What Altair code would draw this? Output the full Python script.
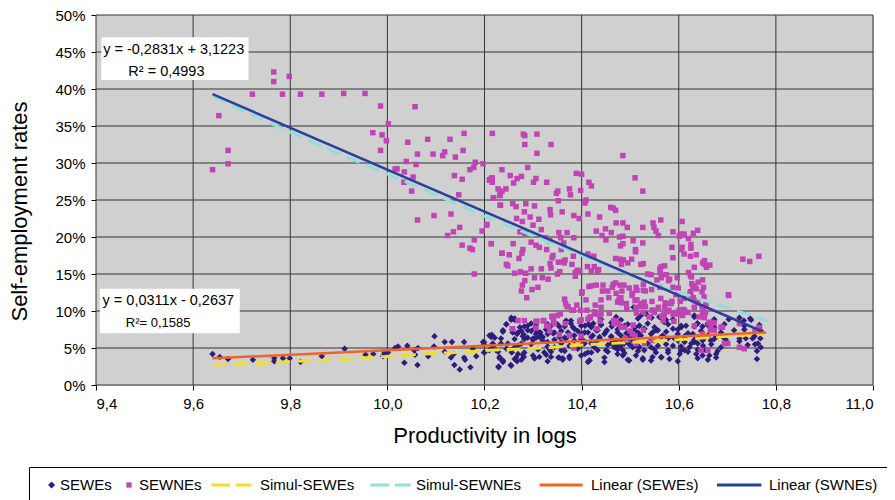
import altair as alt
import pandas as pd

# ---------------- data ----------------
# SEWNEs (magenta squares): (log productivity, self-employment rate in %)
sewne_points = [
    (9.766, 42.3), (9.766, 41.0), (9.798, 41.7), (9.722, 39.3), (9.784, 39.3), (9.821, 39.3),
    (9.865, 39.3), (9.910, 39.4), (9.954, 39.4), (9.653, 36.4), (9.986, 37.7), (10.057, 37.6),
    (10.002, 35.3), (9.970, 34.1), (9.989, 33.8), (9.998, 33.0), (9.986, 31.7), (10.042, 32.8),
    (10.083, 33.2), (10.129, 33.2), (10.158, 34.0), (9.672, 31.7), (9.672, 29.9), (9.640, 29.1),
    (10.062, 31.2), (10.094, 31.2), (10.114, 31.0), (10.118, 31.5), (10.140, 30.8), (10.156, 31.7),
    (10.039, 30.2), (10.059, 29.8), (10.016, 29.2), (10.020, 29.2), (10.035, 28.8), (10.034, 27.4),
    (10.053, 28.1), (10.050, 26.2), (10.181, 30.1), (10.178, 29.4), (10.170, 29.1), (10.197, 29.9),
    (10.210, 27.7), (10.138, 28.3), (10.154, 27.8), (10.147, 25.7), (10.062, 22.3), (10.096, 22.9),
    (10.131, 23.1), (10.149, 21.3), (10.136, 20.7), (10.124, 20.2), (10.205, 21.7), (10.195, 20.8),
    (10.179, 19.6), (10.216, 34.0), (10.216, 28.0), (10.211, 27.7), (10.216, 27.4), (10.228, 26.5),
    (10.232, 25.8), (10.218, 25.3), (10.233, 24.3), (10.154, 18.9), (10.170, 18.5), (10.175, 18.3),
    (10.214, 19.1), (10.236, 17.8), (10.179, 15.0),
    (10.280, 33.9), (10.283, 33.7), (10.308, 33.9), (10.283, 32.5), (10.337, 32.5), (10.308, 31.3),
    (10.485, 31.0), (10.289, 29.4), (10.236, 29.1), (10.253, 28.3), (10.276, 28.2), (10.267, 27.9),
    (10.214, 27.9), (10.306, 27.9), (10.301, 27.4), (10.260, 27.3), (10.244, 26.5), (10.236, 26.2),
    (10.232, 25.6), (10.219, 25.3), (10.328, 27.4), (10.389, 28.6), (10.400, 28.5), (10.415, 27.4),
    (10.420, 26.9), (10.398, 26.3), (10.375, 26.5), (10.377, 25.7), (10.351, 26.2), (10.348, 25.9),
    (10.352, 24.9), (10.409, 25.0), (10.407, 24.6), (10.510, 28.0), (10.526, 26.2), (10.232, 24.3),
    (10.258, 24.5), (10.265, 24.1), (10.285, 24.5), (10.303, 24.2), (10.335, 23.7), (10.336, 23.0),
    (10.360, 23.4), (10.384, 22.9), (10.395, 22.5), (10.413, 23.1), (10.437, 22.7), (10.460, 24.0),
    (10.465, 23.9), (10.470, 23.6), (10.266, 22.5), (10.282, 23.4), (10.294, 22.7), (10.312, 22.4),
    (10.278, 22.1), (10.204, 21.6), (10.300, 21.6), (10.317, 21.0), (10.273, 20.7), (10.283, 20.5),
    (10.471, 21.9), (10.485, 21.9), (10.494, 21.3), (10.526, 21.3), (10.547, 21.9), (10.549, 21.3),
    (10.553, 20.8), (10.558, 20.2), (10.563, 22.3), (10.588, 20.7), (10.607, 22.1), (10.603, 20.4),
    (10.611, 20.4), (10.601, 20.1), (10.630, 20.5), (10.639, 20.9), (10.620, 19.8), (10.654, 19.2),
    (10.586, 18.6), (10.607, 18.6), (10.605, 18.3), (10.625, 18.5), (10.611, 17.7), (10.624, 17.4),
    (10.636, 17.6), (10.653, 16.8), (10.653, 16.3), (10.664, 16.2), (10.657, 15.9), (10.620, 15.2),
    (10.624, 14.8), (10.627, 13.7), (10.633, 13.4), (10.640, 13.9), (10.649, 14.2), (10.651, 13.2),
    (10.703, 12.1), (10.732, 17.0), (10.746, 16.7), (10.765, 17.4), (10.353, 20.6), (10.370, 20.6),
    (10.384, 19.9), (10.357, 19.9), (10.363, 19.2), (10.326, 19.9), (10.334, 19.5), (10.296, 19.3),
    (10.306, 18.9), (10.313, 18.6), (10.328, 18.3), (10.341, 17.5), (10.339, 17.2), (10.358, 18.3),
    (10.366, 16.9), (10.380, 16.3), (10.383, 17.4), (10.413, 17.7), (10.425, 17.4), (10.426, 16.0),
    (10.412, 16.0), (10.435, 15.6), (10.433, 15.3), (10.420, 15.4), (10.430, 20.8), (10.442, 20.2),
    (10.449, 21.1), (10.461, 20.6), (10.450, 19.6), (10.478, 20.0), (10.485, 20.1), (10.480, 18.8),
    (10.485, 19.1), (10.479, 17.0), (10.470, 17.1), (10.482, 16.3), (10.486, 16.9), (10.511, 18.3),
    (10.511, 18.0), (10.506, 19.5), (10.526, 19.2), (10.503, 17.0), (10.495, 16.5), (10.522, 16.3),
    (10.527, 16.4), (10.536, 15.0), (10.543, 14.9), (10.555, 14.2), (10.564, 16.0), (10.571, 16.1),
    (10.562, 15.2), (10.564, 14.5), (10.574, 14.9), (10.581, 14.3), (10.597, 14.5), (10.599, 13.1),
    (10.588, 13.2), (10.594, 12.2), (10.561, 13.2), (10.544, 12.9), (10.527, 12.8), (10.512, 13.2),
    (10.498, 13.1), (10.483, 12.7), (10.481, 11.8), (10.504, 12.1), (10.514, 11.5), (10.529, 11.2),
    (10.545, 11.3), (10.521, 10.6), (10.545, 10.1), (10.558, 10.5), (10.572, 11.1), (10.586, 11.3),
    (10.603, 11.3), (10.609, 10.2), (10.624, 12.6), (10.629, 13.1), (10.625, 12.1), (10.605, 9.8),
    (10.601, 10.1), (10.236, 17.8), (10.251, 17.6), (10.271, 17.1), (10.277, 17.8), (10.279, 18.3),
    (10.259, 19.1), (10.214, 19.1), (10.245, 16.3), (10.248, 16.1), (10.262, 15.1), (10.285, 15.1),
    (10.274, 15.3), (10.296, 15.7), (10.317, 15.7), (10.337, 15.8), (10.335, 16.4), (10.352, 16.6),
    (10.363, 16.7), (10.364, 16.5), (10.355, 15.3), (10.350, 15.0), (10.319, 14.5), (10.303, 14.5),
    (10.283, 14.1), (10.278, 13.5), (10.276, 12.7), (10.298, 12.9), (10.310, 13.2), (10.287, 11.8),
    (10.331, 14.3), (10.387, 15.2), (10.391, 15.5), (10.396, 15.4), (10.387, 14.7), (10.400, 12.4),
    (10.401, 12.6), (10.409, 11.5), (10.415, 13.3), (10.420, 13.4), (10.430, 13.5), (10.444, 13.5),
    (10.443, 12.7), (10.454, 12.7), (10.456, 11.8), (10.463, 13.2), (10.465, 13.6), (10.470, 13.8),
    (10.479, 13.5), (10.487, 13.5), (10.471, 12.4), (10.477, 11.6), (10.482, 11.1), (10.492, 11.0),
    (10.440, 11.5), (10.428, 10.8), (10.411, 10.1), (10.398, 10.1), (10.383, 10.1), (10.367, 11.0),
    (10.365, 11.6), (10.372, 10.6), (10.390, 10.8), (10.426, 9.9), (10.440, 9.6), (10.457, 9.7),
    (10.474, 11.2), (10.493, 10.3), (10.512, 10.5), (10.513, 9.7), (10.527, 9.8), (10.549, 10.1),
    (10.565, 9.3), (10.576, 9.9), (10.596, 9.6), (10.609, 9.9), (10.619, 9.8), (10.649, 9.8),
    (10.655, 9.8), (10.662, 8.4), (10.673, 8.4), (10.690, 7.8), (10.702, 12.2), (10.356, 9.6),
    (10.339, 9.2), (10.342, 8.7), (10.322, 8.7), (10.306, 8.6), (10.282, 8.7), (10.269, 8.7),
    (10.258, 7.6), (10.332, 8.0), (10.396, 8.6), (10.428, 9.6), (10.413, 8.9), (10.417, 9.1),
    (10.438, 8.6), (10.466, 8.7), (10.476, 8.3), (10.488, 7.8), (10.506, 8.1), (10.527, 7.4),
    (10.539, 9.2), (10.568, 8.7), (10.590, 8.6), (10.608, 9.4), (10.632, 8.0), (10.642, 9.2),
    (10.665, 7.4), (10.666, 7.8), (10.701, 5.6), (10.757, 7.4),
    (10.625, 19.0), (10.588, 17.2), (10.561, 15.7), (10.649, 16.5), (10.632, 15.9), (10.626, 14.6),
    (10.579, 14.1), (10.636, 13.0), (10.623, 12.3), (10.648, 12.6), (10.652, 11.9), (10.630, 11.8),
    (10.633, 11.4), (10.639, 11.1), (10.656, 10.9), (10.648, 10.6), (10.610, 11.7), (10.574, 11.0),
    (10.571, 10.5), (10.563, 11.7), (10.531, 12.7), (10.527, 13.6), (10.514, 12.8), (10.504, 12.4),
    (10.510, 11.4), (10.522, 11.0), (10.531, 10.6), (10.580, 10.1), (10.594, 9.8), (10.612, 10.1),
    (10.651, 10.1), (10.569, 9.4), (10.588, 9.6), (10.653, 9.1),
    (10.308, 8.6), (10.321, 8.7), (10.339, 9.3), (10.350, 9.4), (10.370, 10.6), (10.380, 10.1),
    (10.399, 8.8), (10.418, 9.2), (10.437, 9.4), (10.440, 10.5), (10.467, 8.3), (10.471, 8.7),
    (10.257, 7.6), (10.306, 7.7), (10.328, 8.0), (10.334, 7.3), (10.344, 8.3), (10.366, 8.3),
    (10.354, 6.8), (10.375, 6.7), (10.399, 6.6), (10.432, 7.6), (10.481, 7.8), (10.500, 7.3),
    (10.505, 6.9), (10.510, 6.6), (10.490, 6.3), (10.384, 5.0), (10.512, 5.6),
    (10.550, 9.8), (10.570, 9.6), (10.584, 11.0), (10.632, 10.5), (10.666, 8.5), (10.673, 7.4),
    (10.687, 7.8), (10.694, 5.6), (10.529, 5.6), (10.546, 6.0), (10.649, 6.9), (10.660, 4.7),
    (10.646, 4.7), (10.725, 5.1), (10.735, 4.9), (10.725, 8.3), (10.765, 7.8),
]

# SEWEs (dark blue diamonds)
sewe_points = [
    (9.640, 4.2), (9.655, 3.8), (9.672, 3.5), (9.723, 3.4), (9.767, 3.6), (9.767, 3.2),
    (9.785, 3.6), (9.799, 3.6), (9.821, 3.1), (9.865, 3.9), (9.912, 4.9), (9.955, 4.1),
    (9.971, 4.2), (9.991, 3.9), (9.994, 4.3), (10.001, 4.4), (10.016, 5.0), (10.022, 5.2),
    (10.035, 3.0), (10.041, 5.3), (10.055, 4.7), (10.063, 5.0), (10.057, 4.1), (10.062, 2.7),
    (10.084, 3.9), (10.097, 6.6), (10.096, 5.2), (10.118, 5.8), (10.118, 4.5), (10.133, 5.8),
    (10.131, 3.7), (10.137, 4.2), (10.138, 2.7), (10.149, 2.1), (10.158, 5.8), (10.158, 3.7),
    (10.160, 3.4), (10.171, 2.4), (10.176, 4.9), (10.183, 3.9), (10.199, 5.8), (10.200, 4.4),
    (10.210, 6.7), (10.210, 4.7),
    (10.255, 8.8), (10.262, 8.8), (10.245, 8.2), (10.238, 7.4), (10.215, 6.8), (10.258, 7.1),
    (10.267, 6.9), (10.276, 7.3), (10.281, 6.8), (10.296, 7.3), (10.306, 6.9), (10.315, 7.1),
    (10.327, 7.5), (10.337, 8.0), (10.350, 8.2), (10.365, 7.9), (10.382, 7.8), (10.392, 7.3),
    (10.407, 8.0), (10.414, 8.2), (10.424, 8.3), (10.440, 8.2), (10.452, 7.4), (10.462, 7.9),
    (10.474, 7.1), (10.488, 8.0), (10.498, 7.1), (10.510, 7.8), (10.519, 8.0), (10.197, 5.8),
    (10.199, 4.4), (10.217, 5.6), (10.224, 4.7), (10.231, 3.8), (10.238, 3.1), (10.229, 2.4),
    (10.254, 2.7), (10.256, 4.4), (10.262, 3.5), (10.267, 3.2), (10.269, 4.2), (10.279, 4.1),
    (10.281, 3.8), (10.282, 6.2), (10.289, 6.4), (10.300, 6.1), (10.306, 6.4), (10.313, 6.5),
    (10.320, 6.0), (10.300, 4.0), (10.303, 3.6), (10.313, 3.8), (10.323, 4.4), (10.327, 4.1),
    (10.334, 4.8), (10.337, 3.8), (10.352, 3.7), (10.361, 3.6), (10.375, 3.9), (10.358, 5.8),
    (10.368, 6.3), (10.378, 6.7), (10.385, 6.0), (10.392, 5.1), (10.402, 6.1), (10.399, 4.0),
    (10.407, 4.2), (10.416, 3.3), (10.413, 3.1), (10.420, 4.4), (10.430, 5.8), (10.437, 6.5),
    (10.447, 3.1), (10.450, 4.7), (10.461, 5.6), (10.467, 5.1), (10.474, 4.9), (10.474, 4.2),
    (10.485, 4.0), (10.488, 5.6), (10.495, 6.3), (10.505, 5.1), (10.512, 4.0), (10.516, 6.5),
    (10.498, 3.3),
    (10.507, 10.5), (10.522, 9.4), (10.533, 9.6), (10.544, 9.1), (10.560, 9.2), (10.570, 8.5),
    (10.588, 8.9), (10.605, 7.8), (10.615, 8.0), (10.632, 9.4), (10.638, 8.3), (10.649, 7.9),
    (10.660, 8.3), (10.670, 7.6), (10.673, 8.7), (10.703, 8.9), (10.734, 8.7), (10.747, 9.0),
    (10.766, 7.7), (10.769, 7.3), (10.735, 7.5), (10.509, 7.8), (10.516, 7.1), (10.529, 7.6),
    (10.543, 6.9), (10.553, 7.4), (10.567, 6.7), (10.588, 7.6), (10.598, 6.9), (10.612, 6.5),
    (10.629, 6.9), (10.639, 6.5), (10.649, 6.0), (10.660, 6.7), (10.666, 6.0), (10.677, 6.5),
    (10.697, 6.1), (10.725, 5.9), (10.738, 6.3), (10.752, 6.3), (10.768, 6.3), (10.757, 5.5),
    (10.769, 5.1), (10.761, 4.6), (10.509, 5.8), (10.519, 5.1), (10.529, 4.7), (10.543, 5.1),
    (10.553, 4.4), (10.564, 3.8), (10.546, 3.8), (10.526, 3.4), (10.578, 4.7), (10.588, 5.3),
    (10.602, 4.2), (10.612, 4.7), (10.622, 5.1), (10.636, 4.2), (10.639, 5.6), (10.649, 4.0),
    (10.655, 4.7), (10.663, 4.0), (10.677, 4.2), (10.612, 5.8), (10.632, 5.8), (10.598, 6.0),
    (10.578, 6.3),
    (10.273, 7.8), (10.289, 8.0), (10.303, 7.6), (10.317, 6.6), (10.330, 6.9), (10.344, 7.1),
    (10.354, 6.5), (10.372, 7.1), (10.399, 6.9), (10.413, 7.1), (10.423, 6.7), (10.447, 6.9),
    (10.461, 6.5), (10.471, 6.0), (10.481, 6.7), (10.495, 6.9), (10.505, 6.0), (10.420, 8.0),
    (10.433, 7.4), (10.378, 8.7), (10.368, 8.7), (10.406, 5.6), (10.420, 5.6), (10.474, 5.3),
    (10.485, 4.7), (10.358, 4.7), (10.344, 5.1), (10.330, 5.8), (10.276, 5.6), (10.262, 5.1),
    (10.248, 5.6), (10.234, 6.3), (10.221, 6.4), (10.245, 4.9),
    # denser core of the cluster
    (10.255, 9.1), (10.262, 9.0), (10.440, 8.9), (10.471, 9.2), (10.481, 8.8), (10.516, 9.0),
    (10.564, 9.1), (10.574, 8.8), (10.632, 9.2), (10.673, 8.9), (10.725, 9.1), (10.749, 8.8),
    (10.245, 8.2), (10.282, 7.9), (10.296, 8.3), (10.306, 8.0), (10.330, 8.2), (10.354, 7.9),
    (10.378, 8.3), (10.399, 8.0), (10.420, 7.8), (10.440, 8.1), (10.461, 8.4), (10.481, 7.9),
    (10.495, 8.2), (10.519, 8.0), (10.536, 8.3), (10.550, 7.8), (10.578, 8.2), (10.605, 8.0),
    (10.632, 7.9), (10.639, 8.3), (10.660, 8.1), (10.673, 7.8), (10.694, 8.2), (10.735, 8.0),
    (10.766, 8.1),
    (10.238, 7.2), (10.258, 7.5), (10.269, 7.1), (10.289, 7.4), (10.310, 7.2), (10.327, 7.5),
    (10.341, 7.0), (10.358, 7.3), (10.385, 7.6), (10.406, 7.1), (10.430, 7.4), (10.450, 7.2),
    (10.474, 7.5), (10.492, 7.0), (10.509, 7.3), (10.529, 7.6), (10.546, 7.1), (10.557, 7.4),
    (10.574, 7.2), (10.598, 7.5), (10.619, 7.0), (10.646, 7.3), (10.667, 7.6), (10.687, 7.1),
    (10.714, 7.4), (10.769, 7.2),
    (10.214, 6.5), (10.262, 6.2), (10.279, 6.6), (10.300, 6.3), (10.320, 6.5), (10.344, 6.1),
    (10.365, 6.4), (10.385, 6.7), (10.399, 6.2), (10.420, 6.5), (10.437, 6.3), (10.461, 6.6),
    (10.481, 6.1), (10.502, 6.4), (10.522, 6.7), (10.543, 6.2), (10.564, 6.5), (10.591, 6.3),
    (10.612, 6.6), (10.632, 6.1), (10.653, 6.4), (10.673, 6.2), (10.691, 6.5), (10.725, 6.3),
    (10.756, 6.6),
    (10.199, 5.5), (10.217, 5.2), (10.234, 5.6), (10.269, 5.3), (10.296, 5.5), (10.330, 5.2),
    (10.358, 5.6), (10.375, 5.3), (10.402, 5.5), (10.426, 5.1), (10.454, 5.4), (10.467, 5.7),
    (10.481, 5.3), (10.498, 5.5), (10.516, 5.2), (10.536, 5.6), (10.557, 5.3), (10.574, 5.5),
    (10.605, 5.2), (10.626, 5.6), (10.650, 5.3), (10.667, 5.5), (10.687, 5.1), (10.742, 5.4),
    (10.763, 5.6),
    (10.228, 4.5), (10.255, 4.7), (10.282, 4.4), (10.310, 4.8), (10.337, 4.5), (10.365, 4.6),
    (10.392, 4.9), (10.413, 4.4), (10.433, 4.7), (10.454, 4.5), (10.474, 4.8), (10.488, 4.3),
    (10.516, 4.6), (10.550, 4.8), (10.578, 4.4), (10.605, 4.7), (10.619, 4.5), (10.639, 4.8),
    (10.680, 4.6),
    (10.231, 3.6), (10.238, 3.3), (10.265, 3.7), (10.276, 3.4), (10.303, 3.6), (10.330, 3.2),
    (10.354, 3.7), (10.361, 3.4), (10.375, 3.6), (10.416, 3.3), (10.447, 3.7), (10.495, 3.4),
    (10.526, 3.6), (10.543, 3.3), (10.564, 3.7), (10.581, 3.5), (10.598, 3.2), (10.639, 3.6),
    (10.660, 3.4), (10.677, 3.7), (10.761, 3.5), (10.229, 2.5), (10.255, 2.6),
]

simul_sewe = [
    (9.641, 2.7), (9.723, 2.9), (9.761, 3.0), (9.802, 3.2), (9.857, 3.3), (9.918, 3.5),
    (9.961, 3.7), (10.008, 3.9), (10.077, 4.2), (10.145, 4.4), (10.214, 4.7), (10.323, 5.0),
    (10.399, 5.4), (10.454, 5.6), (10.570, 6.0), (10.680, 6.5), (10.776, 6.9),
]
simul_sewne = [
    (9.640, 39.0), (9.768, 35.1), (9.905, 31.1), (10.070, 26.6), (10.200, 22.8),
    (10.550, 13.6), (10.673, 11.0), (10.783, 8.7),
]
linear_sewe = [(9.640, 3.6), (10.780, 7.1)]
linear_swne = [(9.640, 39.3), (10.770, 7.3)]

series_names = ["SEWEs", "SEWNEs", "Simul-SEWEs", "Simul-SEWNEs", "Linear (SEWEs)", "Linear (SWNEs)"]
series_colors = ["#2e1c7e", "#c044b4", "#efdf2a", "#93ded6", "#f26424", "#2b3f9f"]

x_domain = [9.4, 11.0]
y_domain = [0, 50]
x_ticks = [9.4, 9.6, 9.8, 10.0, 10.2, 10.4, 10.6, 10.8, 11.0]
y_ticks = [0, 5, 10, 15, 20, 25, 30, 35, 40, 45, 50]

eq_boxes = pd.DataFrame({
    "x": [9.411, 9.408], "x2": [9.714, 9.696],
    "y": [47.0, 13.0], "y2": [41.2, 7.0],
})
eq_texts = pd.DataFrame({
    "x": [9.560, 9.545, 9.549, 9.528],
    "y": [45.3, 42.3, 11.3, 8.4],
    "label": ["y = -0,2831x + 3,1223", "R² = 0,4993", "y = 0,0311x - 0,2637", "R²= 0,1585"],
    "size": [14.5, 14.5, 14.5, 13],
})

# ---------------- frames ----------------
def frame(points):
    return pd.DataFrame(points, columns=["x", "y"])

FONT = "Liberation Sans"
GRID = "#353535"

x_enc = alt.X("x:Q", scale=alt.Scale(domain=x_domain, nice=False, zero=False),
              axis=alt.Axis(values=x_ticks, title="Productivity in logs",
                            labelExpr="replace(format(datum.value, '.1f'), '.', ',')",
                            grid=False, ticks=True, tickColor="#000000", tickSize=5,
                            tickWidth=1, labelPadding=6,
                            labelFontSize=15, labelFont=FONT, labelColor="#000000",
                            titleFontSize=22, titleFont=FONT, titleFontWeight="normal",
                            titleColor="#000000", titleY=40, domain=False))
y_enc = alt.Y("y:Q", scale=alt.Scale(domain=y_domain, nice=False),
              axis=alt.Axis(values=y_ticks, title="Self-employment rates",
                            labelExpr="datum.value + '%'",
                            grid=False, ticks=True, tickColor="#000000", tickSize=5,
                            tickWidth=1, labelPadding=6,
                            labelFontSize=15, labelFont=FONT, labelColor="#000000",
                            titleFontSize=22, titleFont=FONT, titleFontWeight="normal",
                            titleColor="#000000", titleX=-65, titleY=196, domain=False))

# plot-area background and grid, driven by the scale domain and tick values
bg_df = pd.DataFrame({"x": [x_domain[0]], "x2": [x_domain[1]],
                      "y": [y_domain[0]], "y2": [y_domain[1]]})
background = alt.Chart(bg_df).mark_rect(fill="#d0d0d0").encode(
    x=x_enc, x2="x2", y=y_enc, y2="y2")

vgrid_df = pd.DataFrame({"x": x_ticks, "y": [y_domain[0]] * len(x_ticks),
                         "y2": [y_domain[1]] * len(x_ticks)})
hgrid_df = pd.DataFrame({"y": y_ticks, "x": [x_domain[0]] * len(y_ticks),
                         "x2": [x_domain[1]] * len(y_ticks)})
vgrid = alt.Chart(vgrid_df).mark_rule(color=GRID, strokeWidth=1, opacity=1).encode(
    x=x_enc, y=y_enc, y2="y2")
hgrid = alt.Chart(hgrid_df).mark_rule(color=GRID, strokeWidth=1, opacity=1).encode(
    x=x_enc, x2="x2", y=y_enc)

sewe_layer = alt.Chart(frame(sewe_points)).mark_point(
    shape="diamond", filled=True, size=42, color=series_colors[0], opacity=1
).encode(x=x_enc, y=y_enc)

sewne_layer = alt.Chart(frame(sewne_points)).mark_square(
    size=30, color=series_colors[1], opacity=1
).encode(x=x_enc, y=y_enc)

simul_sewe_layer = alt.Chart(frame(simul_sewe)).mark_line(
    color=series_colors[2], strokeWidth=3, strokeDash=[14, 7]
).encode(x=x_enc, y=y_enc)

simul_sewne_layer = alt.Chart(frame(simul_sewne)).mark_line(
    color=series_colors[3], strokeWidth=3, strokeDash=[14, 7]
).encode(x=x_enc, y=y_enc)

lin_sewe_layer = alt.Chart(frame(linear_sewe)).mark_line(
    color=series_colors[4], strokeWidth=2.5
).encode(x=x_enc, y=y_enc)

lin_swne_layer = alt.Chart(frame(linear_swne)).mark_line(
    color=series_colors[5], strokeWidth=2.5
).encode(x=x_enc, y=y_enc)

box_layer = alt.Chart(eq_boxes).mark_rect(fill="#ffffff").encode(
    x=x_enc, x2="x2", y=y_enc, y2="y2")

text_layer = alt.Chart(eq_texts).mark_text(font=FONT, color="#000000", align="center",
                                           baseline="middle").encode(
    x=x_enc, y=y_enc, text="label:N", size=alt.Size("size:Q", scale=None, legend=None))

# legend-only layer (points placed outside the clipped view).
# Each symbol path starts with a move-to that sets the entry's left extent (spacing).
legend_shapes = [
    "M-1.04,0M0.135,0L0.575,-0.44L1.015,0L0.575,0.44Z",
    "M-0.66,0M0.05,-0.33H0.7V0.33H0.05Z",
    "M-4.875,0M-4.44,-0.19H-2.11V0.19H-4.44Z M-1.39,-0.19H0.54V0.19H-1.39Z",
    "M-5.16,0M-4.07,-0.19H-1.70V0.19H-4.07Z M-0.99,-0.19H0.95V0.19H-0.99Z",
    "M-6.25,0M-4.8,-0.19H0.58V0.19H-4.8Z",
    "M-6.31,0M-4.875,-0.19H0.675V0.19H-4.875Z",
]

legend = alt.Legend(
    title=None, orient="none", legendX=-67, legendY=452, direction="horizontal",
    symbolSize=256, symbolStrokeWidth=0, labelOffset=5, columnPadding=6,
    labelFontSize=15, labelFont=FONT, labelColor="#000000",
    labelLimit=400, fillColor="#ffffff", strokeColor="#000000", padding=10,
)
legend_df = pd.DataFrame({"series": series_names, "x": [12.0] * 6, "y": [25.0] * 6})
legend_layer = alt.Chart(legend_df).mark_point(filled=True, clip=True, opacity=1).encode(
    x=x_enc, y=y_enc,
    color=alt.Color("series:N", scale=alt.Scale(domain=series_names, range=series_colors),
                    legend=legend),
    shape=alt.Shape("series:N", scale=alt.Scale(domain=series_names, range=legend_shapes),
                    legend=legend),
)

chart = alt.layer(
    background, vgrid, hgrid,
    sewe_layer, sewne_layer, simul_sewe_layer, simul_sewne_layer,
    lin_sewe_layer, lin_swne_layer, box_layer, text_layer, legend_layer
).properties(
    width=777, height=370,
    autosize=alt.AutoSizeParams(type="none"),
    padding={"left": 88, "top": 7, "right": 14, "bottom": 115},
).configure_view(
    stroke="#000000", strokeWidth=1
).configure(background="#ffffff")

chart.save("out.html", embed_options={"renderer": "svg", "actions": False})
